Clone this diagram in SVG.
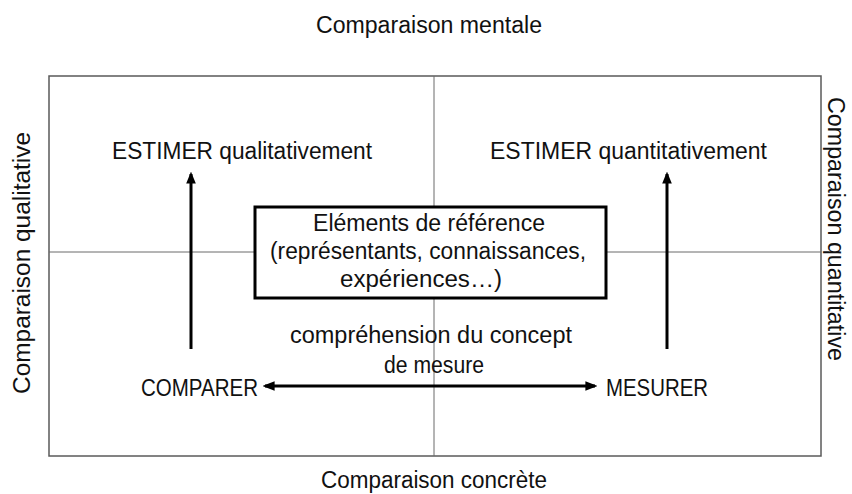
<svg xmlns="http://www.w3.org/2000/svg" width="852" height="494" viewBox="0 0 852 494">
<style>
  text { font-family: "Liberation Sans", Arial, sans-serif; font-size: 23.5px; fill: #111; }
  .c { text-anchor: middle; }
  .frame { fill: none; stroke: #5a5a5a; stroke-width: 1.5; }
  .div { stroke: #6a6a6a; stroke-width: 1; fill: none; }
  .arr { stroke: #000; stroke-width: 3; fill: none; }
  .box { fill: #fff; stroke: #000; stroke-width: 3; }
</style>
<defs>
  <marker id="ah" viewBox="0 0 10 10" refX="8" refY="5" markerWidth="4" markerHeight="4" orient="auto-start-reverse" markerUnits="strokeWidth">
    <path d="M0,1 L10,5 L0,9 Z" fill="#000"/>
  </marker>
</defs>
<rect width="852" height="494" fill="#fff"/>

<g id="frame">
  <rect class="frame" x="49" y="76" width="772" height="380"/>
  <line class="div" x1="434" y1="76" x2="434" y2="456"/>
  <line class="div" x1="49" y1="252" x2="821" y2="252"/>
</g>

<g id="axis-labels">
  <text class="c" x="429" y="33" textLength="226" lengthAdjust="spacingAndGlyphs">Comparaison mentale</text>
  <text class="c" x="434" y="488" textLength="226" lengthAdjust="spacingAndGlyphs">Comparaison concrète</text>
  <text class="c" transform="translate(30,263) rotate(-90)" textLength="262" lengthAdjust="spacingAndGlyphs">Comparaison qualitative</text>
  <text class="c" transform="translate(828,229) rotate(90)" textLength="264" lengthAdjust="spacingAndGlyphs">Comparaison quantitative</text>
</g>

<g id="connectors">
  <line class="arr" x1="191" y1="349" x2="191" y2="174" marker-end="url(#ah)"/>
  <line class="arr" x1="667" y1="349" x2="667" y2="174" marker-end="url(#ah)"/>
  <line class="arr" x1="265" y1="386" x2="595" y2="386" marker-start="url(#ah)" marker-end="url(#ah)"/>
</g>

<g id="estimer-qual">
  <text x="112" y="159" textLength="260" lengthAdjust="spacingAndGlyphs">ESTIMER qualitativement</text>
</g>
<g id="estimer-quant">
  <text x="490" y="159" textLength="277" lengthAdjust="spacingAndGlyphs">ESTIMER quantitativement</text>
</g>

<g id="elements-reference">
  <rect class="box" x="255" y="207" width="351" height="91"/>
  <text class="c" x="429" y="231" textLength="232" lengthAdjust="spacingAndGlyphs">Eléments de référence</text>
  <text class="c" x="428" y="259" textLength="316" lengthAdjust="spacingAndGlyphs">(représentants, connaissances,</text>
  <text class="c" x="421" y="287" textLength="162" lengthAdjust="spacingAndGlyphs">expériences…)</text>
</g>

<g id="comprehension">
  <text class="c" x="431" y="343" textLength="282" lengthAdjust="spacingAndGlyphs">compréhension du concept</text>
  <text class="c" x="434" y="373" textLength="100" lengthAdjust="spacingAndGlyphs">de mesure</text>
</g>

<g id="comparer">
  <text x="141" y="396" textLength="117" lengthAdjust="spacingAndGlyphs">COMPARER</text>
</g>
<g id="mesurer">
  <text x="606" y="396" textLength="102" lengthAdjust="spacingAndGlyphs">MESURER</text>
</g>
</svg>
